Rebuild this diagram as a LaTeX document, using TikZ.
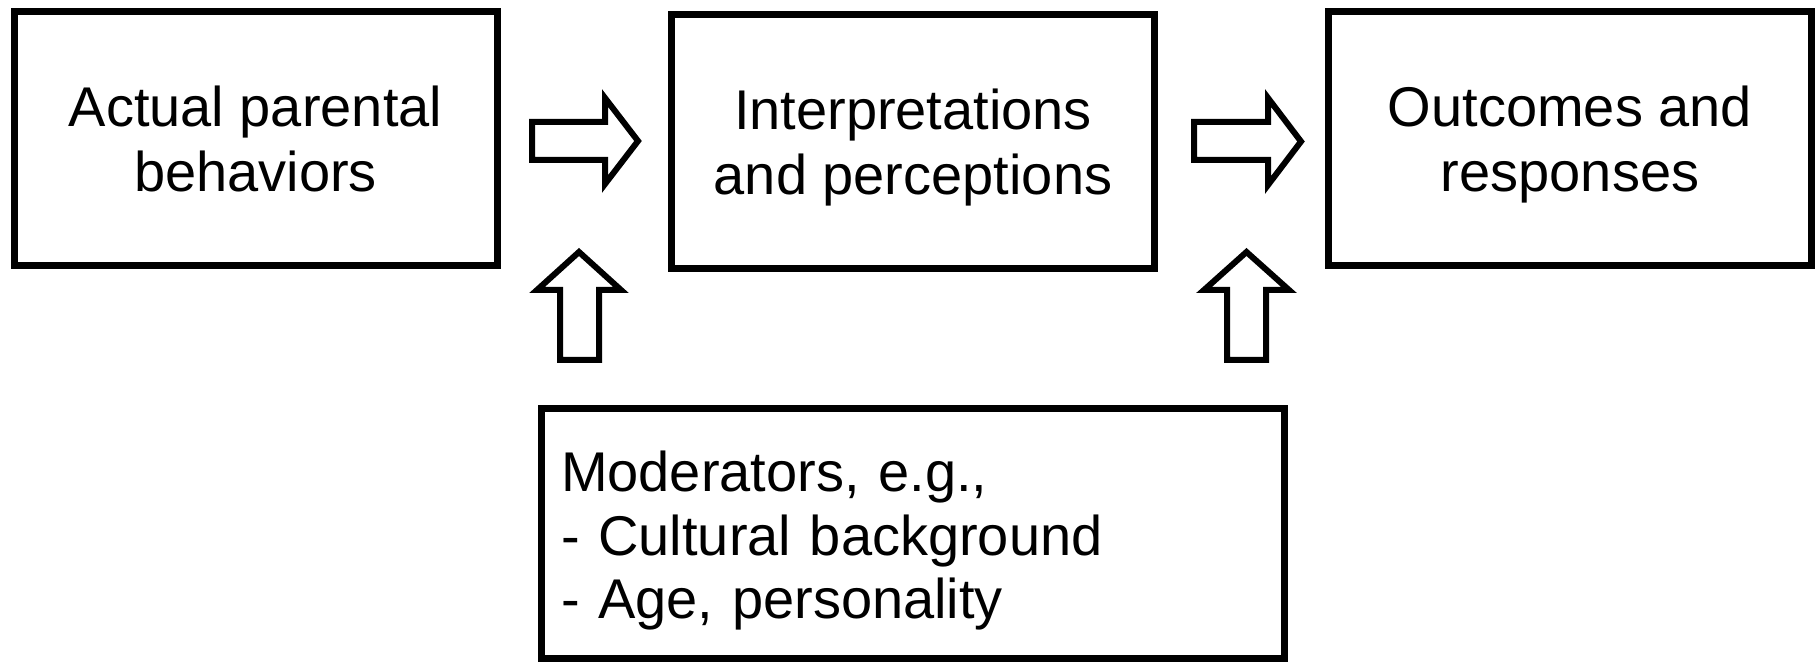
\documentclass[tikz,border=0pt]{standalone}
\usepackage{fontspec}
\setmainfont{Liberation Sans}
\begin{document}
\begin{tikzpicture}[x=0.5pt,y=-0.5pt,
  topbox/.style={draw=black, line width=3.5pt, rectangle, minimum width=241.5pt, minimum height=127pt,
    inner sep=0pt, align=center, text depth=0pt, font=\fontsize{28}{32.5}\selectfont},
  modbox/.style={draw=black, line width=3.5pt, rectangle, minimum width=371.5pt, minimum height=125pt,
    inner xsep=9.75pt, inner ysep=0pt, text width=352pt, align=left, font=\fontsize{28}{31.75}\selectfont},
  blockarrow/.style={draw=black, fill=white, line width=3pt, line join=miter}]
\useasboundingbox (0,0) rectangle (1820,662);
\fill[white] (0,0) rectangle (1820,662);
\node[topbox] (actual) at (255.5,138.5) {Actual parental\\behaviors};
\node[topbox] (interp) at (913,141.5) {Interpretations\\and perceptions};
\node[topbox] (outcome) at (1570,138.5) {Outcomes and\\responses};
\node[modbox] (moder) at (913,533.5) {\rule{0pt}{27.5pt}Moderators, e.g.,\\- Cultural background\\- Age, personality};
% right block arrows
\draw[blockarrow] (532,122) -- (605,122) -- (605,98) -- (638,141) -- (605,184) -- (605,160) -- (532,160) -- cycle;
\draw[blockarrow] (1194,122) -- (1268,122) -- (1268,98) -- (1301,141.5) -- (1268,185) -- (1268,160) -- (1194,160) -- cycle;
% up block arrows
\draw[blockarrow] (560,360) -- (560,290) -- (537,290) -- (579,252) -- (621,290) -- (599,290) -- (599,360) -- cycle;
\draw[blockarrow] (1227,360) -- (1227,290) -- (1204,290) -- (1246.5,252) -- (1289,290) -- (1266,290) -- (1266,360) -- cycle;
\end{tikzpicture}
\end{document}
